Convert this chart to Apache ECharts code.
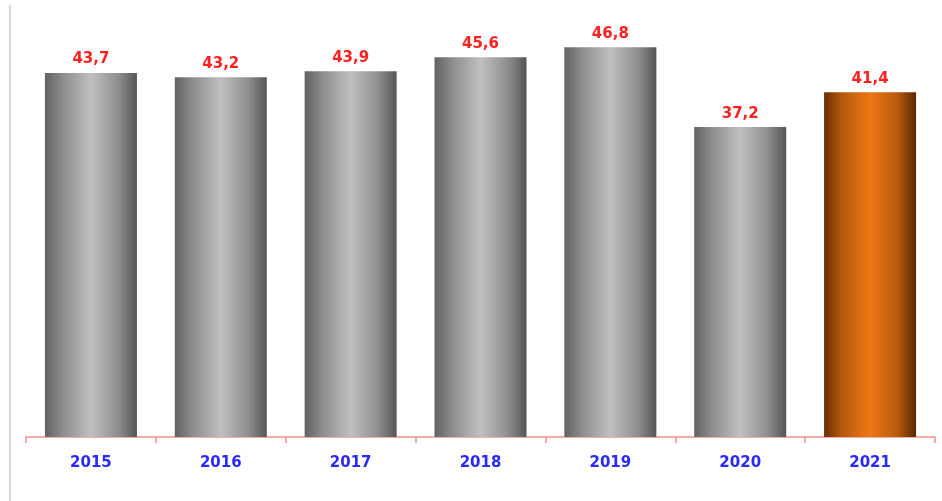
<!DOCTYPE html>
<html>
<head>
<meta charset="utf-8">
<script src="https://cdn.jsdelivr.net/npm/echarts@6/dist/echarts.min.js"></script>
<style>
html,body{margin:0;padding:0;background:#fff;}
#chart{width:942px;height:501px;}
</style>
</head>
<body>
<div id="chart"></div>
<script>
const categories = ['2015','2016','2017','2018','2019','2020','2021'];
const values = [43.7, 43.2, 43.9, 45.6, 46.8, 37.2, 41.4];
const highlightIndex = 6;

function grad(edge, side, mid, edgeR) {
  return new echarts.graphic.LinearGradient(0, 0, 1, 0, [
    {offset: 0, color: edge},
    {offset: 0.2, color: side},
    {offset: 0.5, color: mid},
    {offset: 0.8, color: side},
    {offset: 1, color: edgeR}
  ]);
}

const chart = echarts.init(document.getElementById('chart'));
chart.setOption({
  animation: false,
  backgroundColor: '#fff',
  grid: {left: 26, right: 7, top: 20.5, bottom: 64},
  graphic: [{
    type: 'line',
    shape: {x1: 10, y1: 5, x2: 10, y2: 501},
    style: {stroke: '#d8d8d8', lineWidth: 2}
  }],
  xAxis: {
    type: 'category',
    data: categories,
    axisLine: {lineStyle: {color: '#f49090', width: 1.5}},
    axisTick: {show: true, length: 6, lineStyle: {color: '#f49090', width: 1.5}},
    axisLabel: {color: '#2a2aff', fontWeight: 'bold', fontSize: 15, fontFamily: 'DejaVu Sans', margin: 19}
  },
  yAxis: {
    type: 'value', min: 0, max: 50, show: false,
    splitLine: {show: false}
  },
  series: [{
    type: 'bar',
    barWidth: 92,
    data: values.map((v, i) => ({
      value: v,
      itemStyle: {
        color: i === highlightIndex
          ? grad('#6a3004', '#b65a0c', '#ee7812', '#5a2602')
          : grad('#626262', '#8e8e8e', '#c0c0c0', '#555555')
      }
    })),
    label: {
      show: true, position: 'top', distance: 6,
      color: '#ff2020', fontWeight: 'bold', fontSize: 15, fontFamily: 'DejaVu Sans',
      formatter: p => String(p.value).replace('.', ',')
    }
  }]
});
</script>
</body>
</html>
